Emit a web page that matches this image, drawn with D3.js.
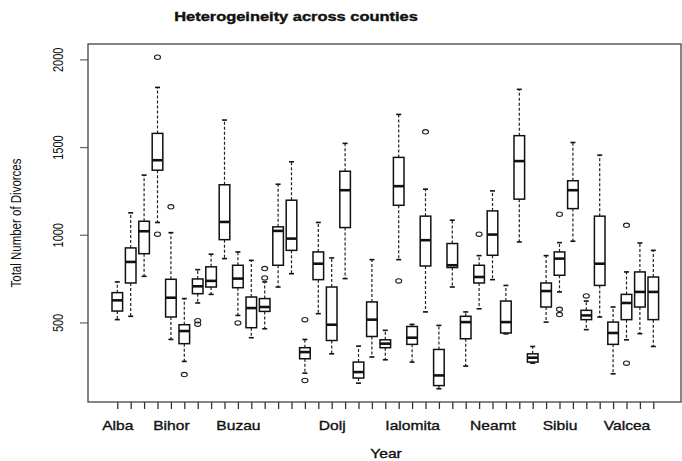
<!DOCTYPE html>
<html lang="en">
<head>
<meta charset="UTF-8">
<title>Heterogeineity across counties</title>
<script src="https://cdn.jsdelivr.net/npm/d3@7"></script>
<style>
    body { margin: 0; background: #fff; }
    text { font-family: "Liberation Sans", Arial, sans-serif; fill: #111; }
    .box rect { fill: #fff; stroke: #111; stroke-width: 1.5; }
    .box .median { stroke: #111; stroke-width: 2.6; }
    .box .whisker { stroke: #222; stroke-width: 1.2; stroke-dasharray: 3,2; }
    .box .staple { stroke: #111; stroke-width: 1.6; }
    .box ellipse { fill: none; stroke: #222; stroke-width: 1.1; }
    .heavy { stroke: #111; stroke-width: 0.35; }
</style>
</head>
<body>
<svg id="chart"></svg>
<script>
    // counties in alphabetical order (41, no Bucharest)
    var counties = ["Alba", "Arad", "Arges", "Bacau", "Bihor", "Bistrita-Nasaud", "Botosani",
        "Braila", "Brasov", "Buzau", "Calarasi", "Caras-Severin", "Cluj", "Constanta", "Covasna",
        "Dambovita", "Dolj", "Galati", "Giurgiu", "Gorj", "Harghita", "Hunedoara", "Ialomita",
        "Iasi", "Ilfov", "Maramures", "Mehedinti", "Mures", "Neamt", "Olt", "Prahova", "Salaj",
        "Satu Mare", "Sibiu", "Suceava", "Teleorman", "Timis", "Tulcea", "Valcea", "Vaslui", "Vrancea"];

    // R only printed the labels that did not overlap
    var shownLabels = ["Alba", "Bihor", "Buzau", "Dolj", "Ialomita", "Neamt", "Sibiu", "Valcea"];

    var yTicks = [500, 1000, 1500, 2000];

    // five number summaries
    var whiskerLow = [516, 535, 763, 1070, 403, 278, 611, 660, 864, 540, 413, 464, 702, 778, 211,
        550, 321, 750, 154, 303, 287, 858, 274, 560, 122, 702, 251, 578, 744, 435, 959, 268,
        502, 674, 963, 459, 531, 207, 401, 436, 363];
    var q1 = [565, 725, 892, 1368, 531, 379, 664, 702, 972, 698, 470, 563, 826, 911, 293,
        744, 397, 1041, 183, 420, 356, 1168, 375, 822, 140, 813, 407, 725, 883, 440, 1203, 274,
        588, 769, 1149, 516, 711, 375, 516, 588, 516];
    var medians = [626, 845, 1020, 1425, 641, 451, 706, 737, 1073, 750, 582, 588, 1022, 978, 331,
        835, 487, 1254, 217, 516, 379, 1277, 413, 969, 198, 826, 502, 759, 1001, 502, 1420, 299,
        679, 864, 1254, 540, 835, 440, 611, 674, 674];
    var q3 = [670, 925, 1077, 1578, 746, 487, 748, 817, 1285, 826, 645, 636, 1045, 1197, 356,
        902, 702, 1362, 274, 617, 401, 1441, 477, 1106, 346, 950, 535, 826, 1136, 622, 1565, 321,
        725, 902, 1308, 569, 1106, 502, 660, 788, 759];
    var whiskerHigh = [731, 1125, 1340, 1840, 1012, 636, 801, 889, 1654, 902, 854, 731, 1288, 1416, 403,
        1070, 868, 1521, 365, 858, 455, 1686, 489, 1260, 483, 1083, 560, 881, 1250, 711, 1829, 363,
        881, 955, 1526, 622, 1454, 588, 788, 953, 911];
    var outliers = [[], [], [], [1003, 2012], [1159], [203], [490, 510], [], [], [497], [], [754, 807], [],
        [], [169, 516], [], [], [], [], [], [], [737], [], [1587], [], [], [], [1003], [], [], [], [],
        [], [545, 575, 1117], [], [651], [], [], [268, 1054], [], []];

    var width = 682;
    var height = 461;
    var frame = {left: 88, top: 44, right: 681, bottom: 402};

    var svg = d3.select('#chart')
        .attr('width', width)
        .attr('height', height);

    var boxes = counties.map(function (c, i) {
        return {
            name: c, i: i + 1,
            lo: whiskerLow[i], q1: q1[i], med: medians[i], q3: q3[i], hi: whiskerHigh[i],
            out: outliers[i]
        };
    });

    // R pads the y range by 4%
    var allVals = d3.merge([whiskerLow, whiskerHigh, d3.merge(outliers)]);
    var ext = d3.extent(allVals);
    var pad = (ext[1] - ext[0]) * 0.04;

    var y = d3.scaleLinear()
        .domain([ext[0] - pad, ext[1] + pad])
        .range([frame.bottom, frame.top]);

    var x = d3.scaleLinear()
        .domain([1, counties.length])
        .range([117.3, 653.3]);

    var boxW = 10.6;
    var stapleW = 5;

    // y axis
    var yAxis = svg.append('g')
        .attr('transform', 'translate(' + frame.left + ',0)')
        .call(d3.axisLeft(y).tickValues(yTicks).tickSize(8).tickFormat(d3.format('d')));
    yAxis.select('.domain').remove();
    yAxis.selectAll('line').attr('stroke', '#666').attr('stroke-width', 1.2);
    yAxis.selectAll('text')
        .attr('x', null).attr('dy', null)
        .attr('text-anchor', 'middle')
        .attr('fill', '#222')
        .style('font-size', '11px')
        .attr('transform', 'translate(-25,0) rotate(-90) scale(1,1.35)');

    // x axis
    var xAxis = svg.append('g')
        .attr('transform', 'translate(0,' + frame.bottom + ')')
        .call(d3.axisBottom(x)
            .tickValues(d3.range(1, counties.length + 1))
            .tickSize(7)
            .tickFormat(function (d) {
                var n = counties[d - 1];
                return shownLabels.indexOf(n) >= 0 ? n : '';
            }));
    xAxis.select('.domain').remove();
    xAxis.selectAll('line').attr('stroke', '#333').attr('stroke-width', 1.3);
    xAxis.selectAll('text')
        .attr('y', null).attr('dy', null)
        .attr('fill', '#111')
        .attr('class', 'heavy')
        .style('font-size', '13px')
        .attr('transform', 'translate(0,28) scale(1.2,1)');

    // boxes
    var g = svg.append('g').selectAll('g.box')
        .data(boxes)
        .enter()
        .append('g')
        .attr('class', 'box')
        .attr('transform', function (d) { return 'translate(' + x(d.i) + ',0)'; });

    g.append('line').attr('class', 'whisker')
        .attr('x1', 0).attr('x2', 0)
        .attr('y1', function (d) { return y(d.q3); })
        .attr('y2', function (d) { return y(d.hi); });
    g.append('line').attr('class', 'whisker')
        .attr('x1', 0).attr('x2', 0)
        .attr('y1', function (d) { return y(d.q1); })
        .attr('y2', function (d) { return y(d.lo); });

    g.append('line').attr('class', 'staple')
        .attr('x1', -stapleW / 2).attr('x2', stapleW / 2)
        .attr('y1', function (d) { return y(d.hi); })
        .attr('y2', function (d) { return y(d.hi); });
    g.append('line').attr('class', 'staple')
        .attr('x1', -stapleW / 2).attr('x2', stapleW / 2)
        .attr('y1', function (d) { return y(d.lo); })
        .attr('y2', function (d) { return y(d.lo); });

    g.append('rect')
        .attr('x', -boxW / 2)
        .attr('width', boxW)
        .attr('y', function (d) { return y(d.q3); })
        .attr('height', function (d) { return y(d.q1) - y(d.q3); });

    g.append('line').attr('class', 'median')
        .attr('x1', -boxW / 2).attr('x2', boxW / 2)
        .attr('y1', function (d) { return y(d.med); })
        .attr('y2', function (d) { return y(d.med); });

    g.selectAll('ellipse')
        .data(function (d) { return d.out; })
        .enter()
        .append('ellipse')
        .attr('cx', 0)
        .attr('cy', function (v) { return y(v); })
        .attr('rx', 3)
        .attr('ry', 2.2);

    // plot frame
    svg.append('rect')
        .attr('x', frame.left).attr('y', frame.top)
        .attr('width', frame.right - frame.left)
        .attr('height', frame.bottom - frame.top)
        .attr('fill', 'none')
        .attr('stroke', '#444')
        .attr('stroke-width', 1.3);

    // titles
    svg.append('text')
        .attr('transform', 'translate(296,21) scale(1.37,1)')
        .attr('text-anchor', 'middle')
        .attr('class', 'heavy')
        .style('font-size', '12px')
        .style('font-weight', 'bold')
        .text('Heterogeineity across counties');

    svg.append('text')
        .attr('transform', 'translate(386,458) scale(1.3,1)')
        .attr('text-anchor', 'middle')
        .attr('class', 'heavy')
        .style('font-size', '12px')
        .text('Year');

    svg.append('text')
        .attr('transform', 'translate(21,223) rotate(-90) scale(1,1.3)')
        .attr('text-anchor', 'middle')
        .attr('fill', '#222')
        .style('font-size', '11.5px')
        .text('Total Number of Divorces');
</script>
</body>
</html>
